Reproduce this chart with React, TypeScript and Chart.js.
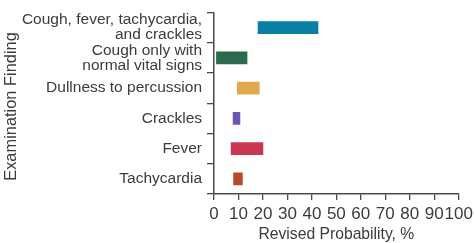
import React, { useEffect, useRef } from 'react';
import { Chart, registerables } from 'chart.js';

Chart.register(...registerables);

const categories: (string | string[])[] = [
  ['Cough, fever, tachycardia,', 'and crackles'],
  ['Cough only with', 'normal vital signs'],
  'Dullness to percussion',
  'Crackles',
  'Fever',
  'Tachycardia',
];
const lowValues = [18, 1, 9.5, 7.8, 7, 8];
const highValues = [42.5, 13.5, 18.5, 10.6, 20, 11.6];
const barColors = ['#0a7fa6', '#2b6a4e', '#e2a84c', '#6a55b3', '#c9364f', '#b9472b'];
const xMin = 0;
const xMax = 100;
const xStep = 10;
const xTitle = 'Revised Probability, %';
const yTitle = 'Examination Finding';

const TEXT = '#3b3b3b';
const AXIS = '#4a4a4a';
const FONT = "'Liberation Sans', Arial, Helvetica, sans-serif";

const yTitlePlugin = {
  id: 'yTitleCustom',
  afterDraw(chart: any) {
    const ctx = chart.ctx as CanvasRenderingContext2D;
    ctx.save();
    ctx.font = `16.4px ${FONT}`;
    ctx.fillStyle = TEXT;
    ctx.textAlign = 'center';
    ctx.textBaseline = 'middle';
    ctx.translate(11.3, 106.5);
    ctx.rotate(-Math.PI / 2);
    ctx.fillText(yTitle, 0, 0);
    ctx.restore();
  },
};

export default function App() {
  const ref = useRef<HTMLCanvasElement | null>(null);

  useEffect(() => {
    if (!ref.current) return;
    const chart = new Chart(ref.current, {
      type: 'bar',
      data: {
        labels: categories as any,
        datasets: [
          {
            data: lowValues.map((v, i) => [v, highValues[i]]) as any,
            backgroundColor: barColors,
            borderWidth: 0,
            barThickness: 12,
          },
        ],
      },
      plugins: [yTitlePlugin],
      options: {
        indexAxis: 'y',
        responsive: false,
        animation: false,
        devicePixelRatio: 1,
        layout: { padding: { top: 8, right: 15.3, bottom: 0, left: 0 } },
        plugins: {
          legend: { display: false },
          tooltip: { enabled: false },
        },
        scales: {
          x: {
            type: 'linear',
            min: xMin,
            max: xMax,
            afterFit: (s: any) => {
              s.height = 49;
            },
            ticks: {
              stepSize: xStep,
              autoSkip: false,
              maxRotation: 0,
              color: TEXT,
              padding: -2,
              font: { family: FONT, size: 17, lineHeight: 1.9 },
            },
            grid: {
              drawOnChartArea: false,
              tickLength: 6,
              color: AXIS,
              lineWidth: 1.3,
            },
            border: { color: AXIS, width: 1.5 },
            title: {
              display: true,
              text: xTitle,
              color: TEXT,
              font: { family: FONT, size: 15.7 },
              padding: { top: 0, bottom: -1.5 },
            },
          },
          y: {
            type: 'category',
            offset: true,
            afterFit: (s: any) => {
              s.width = 214;
            },
            ticks: {
              color: TEXT,
              padding: 5,
              autoSkip: false,
              font: { family: FONT, size: 15.5, lineHeight: '15px' as any },
            },
            grid: {
              offset: true,
              drawOnChartArea: false,
              tickLength: 7,
              color: AXIS,
              lineWidth: 1.3,
            },
            border: { color: AXIS, width: 1.5 },
            title: { display: false },
          },
        },
      },
    });
    return () => chart.destroy();
  }, []);

  return (
    <div style={{ position: 'fixed', left: 0, top: 0, width: 474, height: 243, background: '#fff' }}>
      <canvas ref={ref} width={474} height={243} style={{ display: 'block', width: 474, height: 243 }} />
    </div>
  );
}
